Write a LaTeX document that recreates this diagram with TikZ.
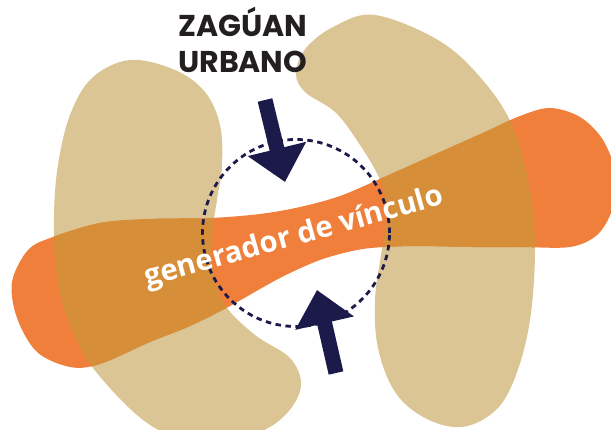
\documentclass[tikz,border=0pt]{standalone}
\usepackage{fontspec}
\setmainfont{Poppins}
\newfontfamily\bandfont{Open Sans}
\usetikzlibrary{arrows.meta}
\definecolor{tanc}{HTML}{DBC594}
\definecolor{orangec}{HTML}{EF7F3B}
\definecolor{overlapc}{HTML}{D68E38}
\definecolor{navyc}{HTML}{1B1A4B}
\definecolor{inkc}{HTML}{231F20}
\def\lefttan{plot[smooth cycle,tension=0.6] coordinates{(130,60) (175,70) (205,92) (220,125) (222,165) (217,200) (212,235) (213,270) (225,305) (255,335) (290,358) (301,385) (288,412) (260,432) (210,445) (150,425) (93,368) (68,320) (56,270) (54,215) (58,165) (70,115) (92,78)}}
\def\righttan{plot[smooth cycle,tension=0.6] coordinates{(375,15) (438,40) (480,77) (512,125) (530,190) (535,250) (530,320) (516,375) (496,410) (462,427) (425,418) (395,392) (378,348) (375,300) (381,255) (387,215) (380,180) (358,142) (335,112) (305,92) (296,73) (306,48) (335,26)}}
\def\band{plot[smooth cycle,tension=0.55] coordinates{(53,237) (100,223) (150,219) (210,218) (260,214) (300,207) (340,196) (382,178) (438,153) (485,132) (520,116) (550,108) (580,117) (603,140) (616,175) (612,210) (597,235) (570,247) (520,247) (472,247) (420,246) (385,247) (357,250) (320,260) (280,278) (230,306) (190,326) (150,342) (100,364) (70,367) (37,352) (17,318) (12,282) (28,250)}}
\tikzset{
  bigarrow/.style={navyc, line width=15pt, -{Triangle[width=58pt,length=34pt]}},
  dashring/.style={circle, draw=navyc, line width=2.8pt, dash pattern=on 5.5pt off 4.5pt, minimum size=187pt, inner sep=0pt},
  title/.style={anchor=base west, inner sep=0pt, text=inkc, font=\bfseries},
  bandtext/.style={anchor=base west, inner sep=0pt, text=white, rotate=15.6}
}
\begin{document}
\begin{tikzpicture}[x=1pt,y=-1pt]
\useasboundingbox (0,0) rectangle (611,430);
\clip (0,0) rectangle (611,430);
\fill[tanc] \lefttan;
\fill[tanc] \righttan;
\fill[orangec] \band;
\begin{scope}
\clip \lefttan;
\fill[overlapc] \band;
\end{scope}
\begin{scope}
\clip \righttan;
\fill[overlapc] \band;
\end{scope}
\node[dashring] (ring) at (296,233) {};
\coordinate (topstart) at (265,100);
\coordinate (toptip) at (285,182);
\coordinate (botstart) at (336,373);
\coordinate (bottip) at (317,290);
\draw[bigarrow] (topstart) -- (toptip);
\draw[bigarrow] (botstart) -- (bottip);
\node[title] (t1) at (178,37) {\resizebox{129pt}{!}{ZAGÚAN}};
\node[title] (t2) at (178,73) {\resizebox{129pt}{!}{URBANO}};
\node[bandtext] (lbl) at (147,287) {\resizebox{309pt}{!}{\bandfont\bfseries generador de vínculo}};
\end{tikzpicture}
\end{document}
